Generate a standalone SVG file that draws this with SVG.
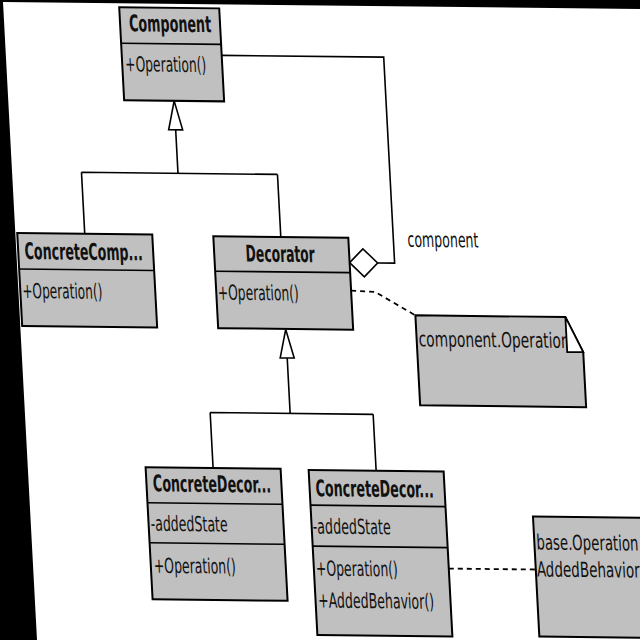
<svg xmlns="http://www.w3.org/2000/svg" width="640" height="640" viewBox="0 0 640 640">
<defs>
<style>
.box{fill:#c0c0c0;stroke:#000;stroke-width:2}
.ln{fill:none;stroke:#000;stroke-width:1.6}
.dash{fill:none;stroke:#000;stroke-width:1.8;stroke-dasharray:5 4}
.head{fill:#fff;stroke:#000;stroke-width:1.6}
.t{font-family:"DejaVu Sans Condensed","DejaVu Sans",sans-serif;font-size:21px;fill:#111}
.b{font-family:"DejaVu Sans Condensed","DejaVu Sans",sans-serif;font-size:23px;font-weight:bold;fill:#111}
</style>
<clipPath id="noteclip"><rect x="396" y="309" width="150" height="90"/></clipPath>
</defs>
<rect width="640" height="640" fill="#fff"/>
<g transform="matrix(1,0.011,0.053,1,3,2)">
<g id="connectors">
<polyline class="ln" points="216,51 378,51 378,257 361,257"/>
<polygon class="head" points="333,257 347,243 361,257 347,271"/>
<path class="ln" d="M166,126 V169.5 M69.5,169.5 H265.5 M69.5,169.5 V231 M265.5,169.5 V232"/>
<polygon class="head" points="166,97 159,126 173,126"/>
<path class="ln" d="M265.5,353 V408.5 M185.5,408.5 H348.5 M185.5,408.5 V464 M348.5,408.5 V465"/>
<polygon class="head" points="265.5,324.5 258.5,353 272.5,353"/>
<polyline class="dash" points="333,285 357,286 396,309"/>
<line class="dash" x1="416" y1="562" x2="503" y2="562"/>
<text class="t" x="392" y="240.5" textLength="71" lengthAdjust="spacingAndGlyphs">component</text>
</g>
<g id="Component">
<rect class="box" x="116" y="4" width="100" height="93"/>
<line class="ln" stroke-width="2" x1="116" y1="40" x2="216" y2="40"/>
<text class="b" x="166" y="28" text-anchor="middle" textLength="82" lengthAdjust="spacingAndGlyphs">Component</text>
<text class="t" x="119" y="68" textLength="81" lengthAdjust="spacingAndGlyphs">+Operation()</text>
</g>
<g id="ConcreteComponent">
<rect class="box" x="2" y="231" width="135" height="93"/>
<line class="ln" stroke-width="2" x1="2" y1="267" x2="137" y2="267"/>
<text class="b" x="8.5" y="257" textLength="118" lengthAdjust="spacingAndGlyphs">ConcreteComp...</text>
<text class="t" x="4" y="296" textLength="80" lengthAdjust="spacingAndGlyphs">+Operation()</text>
</g>
<g id="Decorator">
<rect class="box" x="198" y="232" width="135" height="92"/>
<line class="ln" stroke-width="2" x1="198" y1="267" x2="333" y2="267"/>
<text class="b" x="264" y="257" text-anchor="middle" textLength="69" lengthAdjust="spacingAndGlyphs">Decorator</text>
<text class="t" x="199.5" y="295.5" textLength="81" lengthAdjust="spacingAndGlyphs">+Operation()</text>
</g>
<g id="Note1">
<polygon class="box" points="396,309 546,309 562,344 562,399 396,399"/>
<polygon fill="#fff" stroke="#000" stroke-width="1.8" points="546,309 562,344 546,344"/>
<text class="t" x="398" y="340" clip-path="url(#noteclip)" textLength="151" lengthAdjust="spacingAndGlyphs">component.Operation</text>
</g>
<g id="ConcreteDecoratorA">
<rect class="box" x="118" y="464" width="135" height="132"/>
<line class="ln" stroke-width="2" x1="118" y1="499.5" x2="253" y2="499.5"/>
<line class="ln" stroke-width="2" x1="118" y1="539.5" x2="253" y2="539.5"/>
<text class="b" x="124.5" y="488" textLength="118" lengthAdjust="spacingAndGlyphs">ConcreteDecor...</text>
<text class="t" x="120" y="527.5" textLength="77" lengthAdjust="spacingAndGlyphs">-addedState</text>
<text class="t" x="121" y="569.5" textLength="82" lengthAdjust="spacingAndGlyphs">+Operation()</text>
</g>
<g id="ConcreteDecoratorB">
<rect class="box" x="281" y="465" width="135" height="165"/>
<line class="ln" stroke-width="2" x1="281" y1="500" x2="416" y2="500"/>
<line class="ln" stroke-width="2" x1="281" y1="541" x2="416" y2="541"/>
<text class="b" x="287" y="491" textLength="118" lengthAdjust="spacingAndGlyphs">ConcreteDecor...</text>
<text class="t" x="282" y="528.5" textLength="78" lengthAdjust="spacingAndGlyphs">-addedState</text>
<text class="t" x="283" y="570.5" textLength="82" lengthAdjust="spacingAndGlyphs">+Operation()</text>
<text class="t" x="283.5" y="602.5" textLength="116" lengthAdjust="spacingAndGlyphs">+AddedBehavior()</text>
</g>
<g id="Note2">
<polygon class="box" points="503,509 700,509 700,629 503,629"/>
<text class="t" x="505" y="542" textLength="102" lengthAdjust="spacingAndGlyphs">base.Operation</text>
<text class="t" x="504" y="569" textLength="103" lengthAdjust="spacingAndGlyphs">AddedBehavior</text>
</g>
</g>
<polygon fill="#000" points="0,0 640,0 640,9 3,2 37,640 0,640"/>
</svg>
